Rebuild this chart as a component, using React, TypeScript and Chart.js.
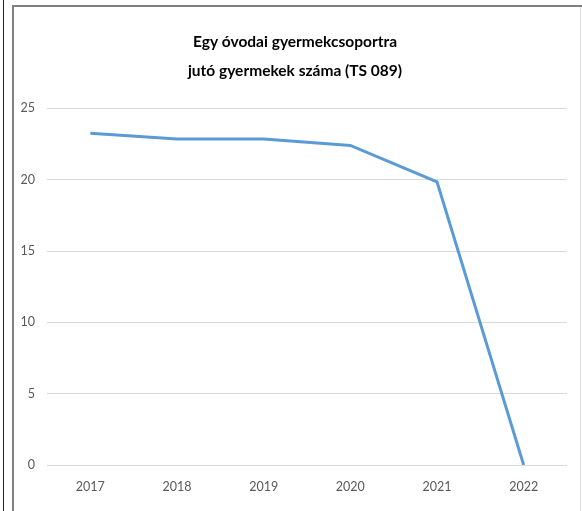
import React, { useEffect, useRef } from "react";
import { Chart, registerables } from "chart.js";

Chart.register(...registerables);

const titleLines = ["Egy óvodai gyermekcsoportra", "jutó gyermekek száma (TS 089)"];
const years = ["2017", "2018", "2019", "2020", "2021", "2022"];
const values = [23.25, 22.85, 22.85, 22.4, 19.85, 0];
const yTicks = [0, 5, 10, 15, 20, 25];

const TITLE_FONT = "Lato, 'DejaVu Sans', sans-serif";
const TICK_FONT = "Lato, 'DejaVu Sans', sans-serif";

export default function App() {
  const ref = useRef<HTMLCanvasElement>(null);

  useEffect(() => {
    document.body.style.margin = "0";
    const ctx = ref.current!.getContext("2d")!;
    const chart = new Chart(ctx, {
      type: "line",
      data: {
        labels: years,
        datasets: [
          {
            data: values,
            borderColor: "#5b9bd5",
            backgroundColor: "#5b9bd5",
            borderWidth: 3,
            pointRadius: 0,
            tension: 0,
            fill: false,
            yAxisID: "y",
          },
        ],
      },
      options: {
        responsive: false,
        animation: false,
        layout: { padding: 0 },
        plugins: {
          legend: { display: false },
          tooltip: { enabled: false },
          title: {
            display: true,
            text: titleLines,
            color: "#000000",
            font: { family: TITLE_FONT, size: 15.5, weight: "bold", lineHeight: 1.85 },
            padding: { top: 28, bottom: 23 },
          },
        },
        scales: {
          x: {
            offset: true,
            grid: { display: false, drawTicks: false },
            border: { display: false },
            ticks: {
              color: "#595959",
              font: { family: TICK_FONT, size: 12.5 },
              padding: 14,
              maxRotation: 0,
            },
            afterFit: (s: any) => {
              s.height = 46;
            },
          },
          y: {
            min: 0,
            max: 25,
            afterBuildTicks: (s: any) => {
              s.ticks = yTicks.map((v) => ({ value: v }));
            },
            grid: { color: "#d9d9d9", lineWidth: 1, drawTicks: false },
            border: { display: false },
            ticks: {
              color: "#595959",
              font: { family: TICK_FONT, size: 12.5 },
              padding: 12,
            },
            afterFit: (s: any) => {
              s.width = 35;
            },
          },
          yRight: {
            position: "right",
            min: 0,
            max: 25,
            grid: { display: false, drawTicks: false },
            border: { display: false },
            ticks: { display: false },
            afterFit: (s: any) => {
              s.width = 11;
            },
          },
        },
      },
    });
    return () => chart.destroy();
  }, []);

  return (
    <div style={{ position: "absolute", left: 0, top: 0, width: 582, height: 511, background: "#fff", overflow: "hidden" }}>
      <div style={{ position: "absolute", left: 3, top: 0, width: 1, height: 511, background: "#222" }} />
      <div style={{ position: "absolute", left: 12, top: 5, width: 2, height: 506, background: "#7f7f7f" }} />
      <div style={{ position: "absolute", left: 12, top: 5, width: 570, height: 2, background: "#7f7f7f" }} />
      <div style={{ position: "absolute", left: 580, top: 7, width: 1, height: 504, background: "#e0e0e0" }} />
      <canvas ref={ref} width={566} height={511} style={{ position: "absolute", left: 12, top: 0, width: 566, height: 511 }} />
    </div>
  );
}
